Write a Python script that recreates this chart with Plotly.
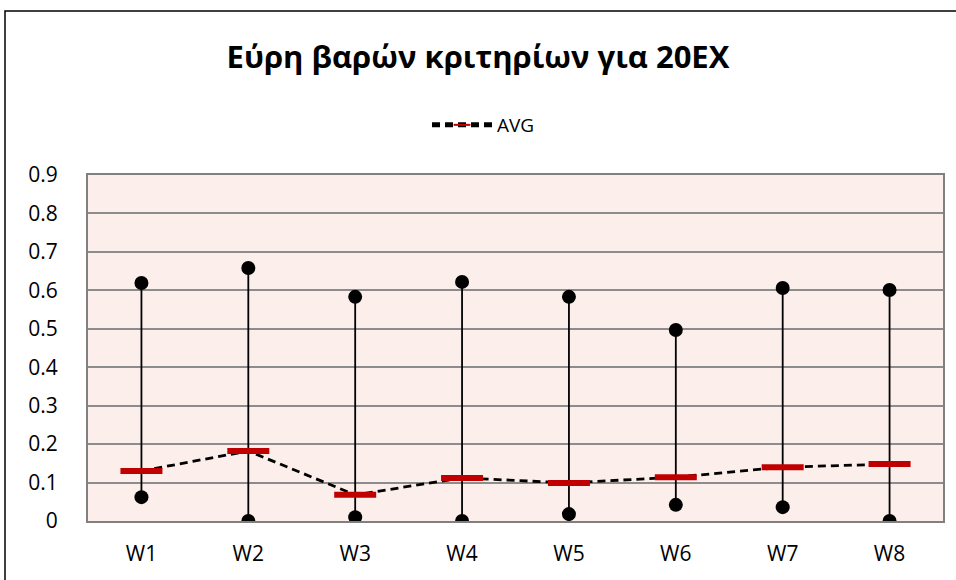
import plotly.graph_objects as go

categories = ["W1", "W2", "W3", "W4", "W5", "W6", "W7", "W8"]
max_vals = [0.619, 0.658, 0.583, 0.622, 0.583, 0.497, 0.606, 0.601]
min_vals = [0.062, 0.0, 0.010, 0.0, 0.018, 0.042, 0.036, 0.0]
avg_vals = [0.130, 0.182, 0.068, 0.112, 0.099, 0.114, 0.140, 0.148]
y_ticks = [0, 0.1, 0.2, 0.3, 0.4, 0.5, 0.6, 0.7, 0.8, 0.9]
y_tick_labels = ["0", "0.1", "0.2", "0.3", "0.4", "0.5", "0.6", "0.7", "0.8", "0.9"]

FONT = "Open Sans"

seg_x, seg_y = [], []
for c, lo, hi in zip(categories, min_vals, max_vals):
    seg_x += [c, c, None]
    seg_y += [lo, hi, None]

fig = go.Figure()
fig.add_trace(go.Scatter(x=seg_x, y=seg_y, mode="lines",
                         line=dict(color="black", width=1.8),
                         showlegend=False, hoverinfo="skip", cliponaxis=True))
fig.add_trace(go.Scatter(x=categories, y=max_vals, mode="markers",
                         marker=dict(color="black", size=14),
                         showlegend=False, cliponaxis=True))
fig.add_trace(go.Scatter(x=categories, y=min_vals, mode="markers",
                         marker=dict(color="black", size=14),
                         showlegend=False, cliponaxis=True))
fig.add_trace(go.Scatter(x=categories, y=avg_vals, mode="lines+markers", name="AVG",
                         line=dict(color="black", width=2.8, dash="8px,5px"),
                         marker=dict(symbol="line-ew", size=30,
                                     line=dict(color="#C00000", width=6)),
                         cliponaxis=False))

W, H = 956, 580
ml, mr, mt, mb = 88, 13, 175, 59
pw, ph = W - ml - mr, H - mt - mb

def px_x(p):
    return (p - ml) / pw

def px_y(p):
    return (H - mb - p) / ph

fig.update_layout(
    width=W, height=H,
    margin=dict(l=ml, r=mr, t=mt, b=mb),
    paper_bgcolor="white",
    plot_bgcolor="#FCEEEA",
    font=dict(family=FONT, color="black", size=19),
    title=dict(text="<b>Εύρη βαρών κριτηρίων για 20EX</b>",
               x=0.5, xanchor="center", y=1 - 57 / H, yanchor="middle",
               font=dict(family=FONT, size=31, color="black")),
    showlegend=True,
    legend=dict(orientation="h", x=px_x(427), xanchor="left",
                y=px_y(125), yanchor="middle", itemsizing="constant",
                font=dict(family=FONT, size=19), itemwidth=60,
                bgcolor="rgba(0,0,0,0)"),
    xaxis=dict(type="category", range=[-0.5, 7.5], showgrid=False,
               showline=True, linecolor="#808080", linewidth=2, mirror=True,
               ticks="", ticklabelstandoff=13, tickfont=dict(size=21),
               fixedrange=True),
    yaxis=dict(range=[0, 0.9], tickvals=y_ticks, ticktext=y_tick_labels,
               showgrid=True, gridcolor="#8C8C8C", gridwidth=1.6,
               showline=True, linecolor="#808080", linewidth=2, mirror=True,
               ticks="", ticklabelstandoff=24, tickfont=dict(size=21),
               zeroline=False, fixedrange=True),
    shapes=[dict(type="rect", xref="paper", yref="paper",
                 x0=px_x(5), x1=px_x(962), y0=px_y(600), y1=px_y(11),
                 line=dict(color="black", width=1.5), fillcolor="rgba(0,0,0,0)",
                 layer="below")],
)

fig.write_html("out.html", config={"displayModeBar": False},
               post_script="document.body.style.margin='0';document.body.style.padding='0';")
